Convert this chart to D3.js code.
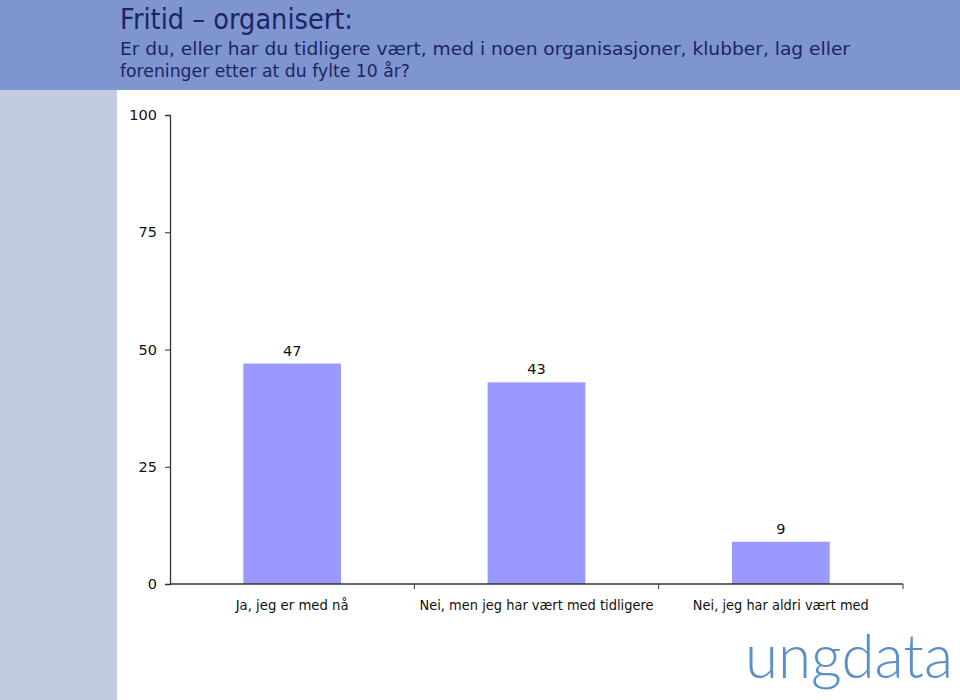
<!DOCTYPE html>
<html><head><meta charset="utf-8">
<script src="https://cdn.jsdelivr.net/npm/d3@7"></script>
<style>body{margin:0;background:#fff}svg{display:block}</style>
</head><body>
<script>
const categories = ["Ja, jeg er med nå", "Nei, men jeg har vært med tidligere", "Nei, jeg har aldri vært med"];
const values = [47, 43, 9];
const yTicks = [0, 25, 50, 75, 100];
const title = "Fritid \u2013 organisert:";
const subtitle = ["Er du, eller har du tidligere vært, med i noen organisasjoner, klubber, lag eller", "foreninger etter at du fylte 10 år?"];

const W = 960, H = 700;
const svg = d3.select("body").append("svg").attr("width", W).attr("height", H);
const font = "'DejaVu Sans', Verdana, sans-serif";

svg.append("rect").attr("x",0).attr("y",90).attr("width",117).attr("height",H-90).attr("fill","#c1cce0");
svg.append("rect").attr("x",0).attr("y",0).attr("width",W).attr("height",90).attr("fill","#7f95cf");

svg.append("text").attr("x",120).attr("y",29).attr("font-family",font).attr("font-size",28)
  .attr("fill","#1c2466").attr("textLength",233).attr("lengthAdjust","spacingAndGlyphs").text(title);
const subW = [730, 290];
subtitle.forEach((s,i)=>{
  svg.append("text").attr("x",120).attr("y",55+i*22).attr("font-family",font).attr("font-size",18.5)
    .attr("fill","#1c2466").attr("textLength",subW[i]).attr("lengthAdjust","spacingAndGlyphs").text(s);
});

const x0 = 170, x1 = 903, yTop = 115, yBot = 584;
const x = d3.scaleBand().domain(categories).range([x0,x1]).paddingInner(0.6).paddingOuter(0.3);
const y = d3.scaleLinear().domain([0,100]).range([yBot,yTop]);

const g = svg.append("g");
g.selectAll("rect.bar").data(values).join("rect").attr("class","bar")
  .attr("x",(d,i)=>x(categories[i])).attr("width",x.bandwidth())
  .attr("y",d=>y(d)).attr("height",d=>yBot-y(d)).attr("fill","#9999ff");

g.selectAll("text.val").data(values).join("text").attr("class","val")
  .attr("x",(d,i)=>x(categories[i])+x.bandwidth()/2).attr("y",d=>y(d)-8)
  .attr("text-anchor","middle").attr("font-family",font).attr("font-size",14.5).attr("fill","#111")
  .text(d=>d);

const yAxis = d3.axisLeft(y).tickValues(yTicks).tickSize(5).tickPadding(8);
const ya = svg.append("g").attr("transform",`translate(${x0},0)`).call(yAxis);
ya.select(".domain").attr("stroke","#333").attr("stroke-width",1.3);
ya.selectAll(".tick line").attr("stroke","#333");
ya.selectAll(".tick text").attr("font-family",font).attr("font-size",14.5).attr("fill","#111");

const bounds = [x0, x0+(x1-x0)/3, x0+2*(x1-x0)/3, x1];
svg.append("line").attr("x1",x0).attr("x2",x1).attr("y1",yBot).attr("y2",yBot).attr("stroke","#333").attr("stroke-width",1.3);
svg.selectAll("line.xt").data(bounds.slice(1)).join("line").attr("class","xt")
  .attr("x1",d=>d).attr("x2",d=>d).attr("y1",yBot).attr("y2",yBot+5).attr("stroke","#333");
const catW = [113, 234, 176];
svg.selectAll("text.cat").data(categories).join("text").attr("class","cat")
  .attr("x",d=>x(d)+x.bandwidth()/2).attr("y",610).attr("text-anchor","middle")
  .attr("font-family",font).attr("font-size",14.5).attr("fill","#111")
  .attr("textLength",(d,i)=>catW[i]).attr("lengthAdjust","spacingAndGlyphs").text(d=>d);

svg.append("text").attr("x",745).attr("y",678).attr("font-family","Lato, 'Open Sans', sans-serif")
  .attr("font-size",62).attr("font-weight",300).attr("fill","#5b8fcb")
  .attr("textLength",208).attr("lengthAdjust","spacingAndGlyphs").text("ungdata");
</script>
</body></html>
